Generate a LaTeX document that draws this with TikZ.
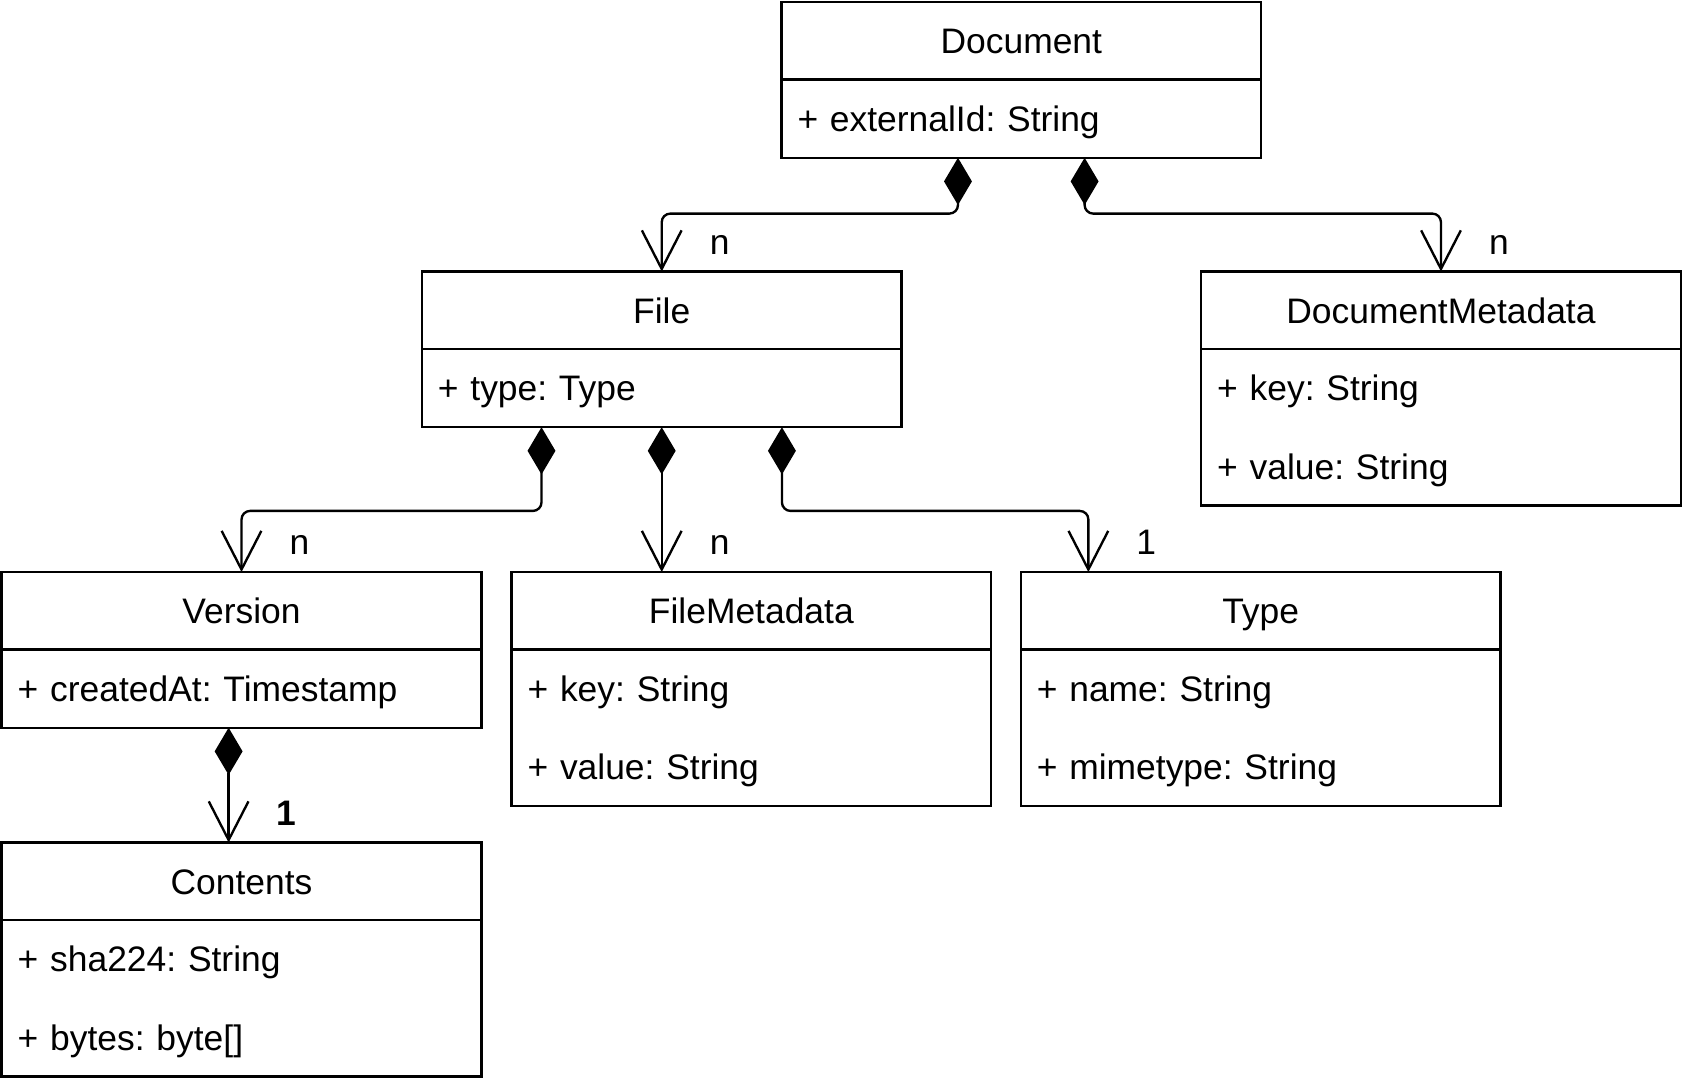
\documentclass[tikz,border=0pt]{standalone}
\usepackage{fontspec}
\setmainfont{Liberation Sans}
\usetikzlibrary{arrows.meta,positioning}
\newcommand{\rowstrut}{\rule[-24pt]{0pt}{72pt}}
\newcommand{\attrstrut}{\rule[-24.5pt]{0pt}{73pt}}
\frenchspacing

\begin{document}
\begin{tikzpicture}[x=1pt, y=-1pt, line width=2.2pt,
    classname/.style={draw, minimum width=447pt, inner sep=0pt, outer sep=0pt, font=\fontsize{33}{72}\selectfont},
    classattrs/.style={draw, text width=417pt, inner xsep=15pt, inner ysep=0pt, outer sep=0pt, align=left, font=\fontsize{33}{73}\selectfont\frenchspacing},
    compo/.style={rounded corners=8pt, {Diamond[length=44pt,width=26pt]}-{Straight Barb[length=36pt,width=37pt]}},
    mult/.style={font=\fontsize{33}{40}\selectfont, anchor=base, xshift=54pt, yshift=16pt}]
    \useasboundingbox (0,0) rectangle (1568,1012);

    % Clase Document
    \node[classname] (doct) at (951.5,38) {\rowstrut Document};
    \node[classattrs, below=0pt of doct] (docb) {\attrstrut + externalId: String};

    % Clase File
    \node[classname] (filet) at (616.5,289) {\rowstrut File};
    \node[classattrs, below=0pt of filet] (fileb) {\attrstrut + type: Type};

    % Clase DocumentMetadata
    \node[classname] (dmt) at (1342.5,289) {\rowstrut DocumentMetadata};
    \node[classattrs, below=0pt of dmt] (dmb) {\attrstrut + key: String\\\attrstrut + value: String};

    % Clase Version
    \node[classname] (vert) at (225,569) {\rowstrut Version};
    \node[classattrs, below=0pt of vert] (verb) {\attrstrut + createdAt: Timestamp};

    % Clase FileMetadata
    \node[classname] (fmt) at (700,569) {\rowstrut FileMetadata};
    \node[classattrs, below=0pt of fmt] (fmb) {\attrstrut + key: String\\\attrstrut + value: String};

    % Clase Type
    \node[classname] (typet) at (1174.5,569) {\rowstrut Type};
    \node[classattrs, below=0pt of typet] (typeb) {\attrstrut + name: String\\\attrstrut + mimetype: String};

    % Clase Contents
    \node[classname] (cont) at (225,821) {\rowstrut Contents};
    \node[classattrs, below=0pt of cont] (conb) {\attrstrut + sha224: String\\\attrstrut + bytes: byte[]};

    % Composiciones
    \draw[compo] ([xshift=-59pt]docb.south) |- ([yshift=54pt]filet.north) -- (filet.north) node[mult] {n};
    \draw[compo] ([xshift=59pt]docb.south) |- ([yshift=54pt]dmt.north) -- (dmt.north) node[mult] {n};
    \draw[compo] ([xshift=-112pt]fileb.south) |- ([yshift=57pt]vert.north) -- (vert.north) node[mult] {n};
    \draw[compo] (fileb.south) -- (fileb.south |- fmt.north) node[mult] {n};
    \draw[compo] ([xshift=112pt]fileb.south) |- ([xshift=-160.5pt,yshift=57pt]typet.north) -- ([xshift=-160.5pt]typet.north) node[mult] {1};
    \draw[compo] ([xshift=-12pt]verb.south) -- ([xshift=-12pt]cont.north) node[mult, font=\fontsize{33}{40}\selectfont\bfseries] {1};
\end{tikzpicture}
\end{document}
